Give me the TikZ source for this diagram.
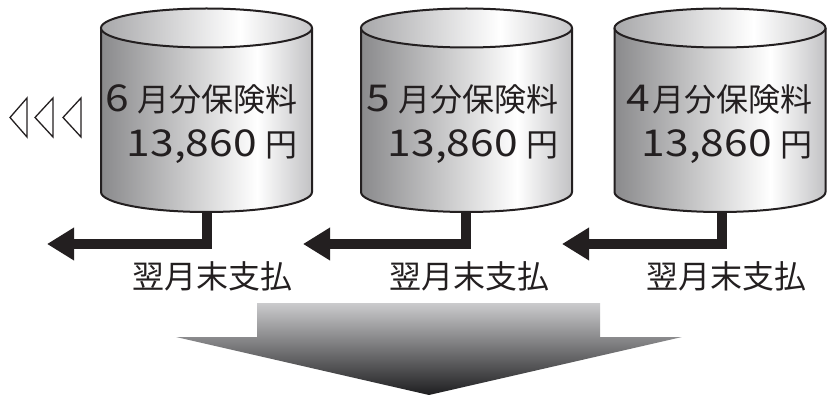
\documentclass[tikz,border=0pt]{standalone}
\usepackage{fontspec}
\setmainfont{Noto Sans CJK JP}
\newfontfamily\jp{Noto Sans CJK JP}
\usetikzlibrary{arrows.meta}
\definecolor{ink}{HTML}{231F20}
\definecolor{cA}{HTML}{8A8A8C}
\definecolor{cB}{HTML}{C2C2C4}
\definecolor{tA}{HTML}{A8A8AA}
\definecolor{tB}{HTML}{C6C6C8}
\definecolor{aTop}{HTML}{CBCBCD}
\definecolor{aBot}{HTML}{1E1E20}
\pgfdeclarehorizontalshading{cylbody}{100bp}{color(0bp)=(cA); color(25bp)=(cA); color(62bp)=(white); color(75bp)=(cB); color(100bp)=(cB)}
\pgfdeclarehorizontalshading{cyltop}{100bp}{color(0bp)=(tA); color(25bp)=(tA); color(58bp)=(white); color(75bp)=(tB); color(100bp)=(tB)}
\newcommand\dg{\fontsize{37}{40}\selectfont\jp}
\newcommand\kj{\fontsize{32}{36}\selectfont\jp}
\newcommand\numtxt[1]{\scalebox{1.15}[1]{\dg #1}}
% cylinder: #1 = centre x
\newcommand\mydrum[1]{%
  \shade[shading=cylbody] (#1-105.5,-28) -- (#1-105.5,-192)
    arc[start angle=180,end angle=360,x radius=105.5,y radius=20] -- (#1+105.5,-28) -- cycle;
  \draw[drumline] (#1-105.5,-28) -- (#1-105.5,-192)
    arc[start angle=180,end angle=360,x radius=105.5,y radius=20] -- (#1+105.5,-28);
  \shade[shading=cyltop] (#1,-28) ellipse[x radius=105.5,y radius=19.5];
  \draw[drumline] (#1,-28) ellipse[x radius=105.5,y radius=19.5];
}
\tikzset{
  drumline/.style={draw=ink, line width=2pt},
  pay/.style={draw=ink, line width=10pt, -{Triangle[length=27pt,width=31pt]}},
  cyltxt/.style={anchor=base east, inner sep=0pt, text=ink},
  lbl/.style={anchor=center, inner sep=0pt, text=ink, font=\kj},
  prev/.style={draw=ink, line width=1.3pt}
}
\begin{document}
\begin{tikzpicture}[x=1pt,y=1pt]
\useasboundingbox (0,0) rectangle (827,-395);
% big downward arrow
\shade[top color=aTop, bottom color=aBot]
  (257,-303) -- (600,-303) -- (600,-337) -- (682,-337) -- (429,-395)
  -- (176,-337) -- (257,-337) -- cycle;
% payment connectors
\coordinate (s1) at (207,-200);  \coordinate (t1) at (47,-244);
\coordinate (s2) at (466,-200);  \coordinate (t2) at (303,-244);
\coordinate (s3) at (722,-200);  \coordinate (t3) at (562,-244);
\draw[pay] (s1) |- (t1);
\draw[pay] (s2) |- (t2);
\draw[pay] (s3) |- (t3);
% cylinders
\mydrum{206.5}
\mydrum{466.5}
\mydrum{720}
% texts in cylinders
\node[cyltxt] (m1) at (298,-112) {\numtxt{6}\hspace{9pt}\kj 月分保険料};
\node[cyltxt] (y1) at (298,-157) {\numtxt{13,860}\hspace{9pt}\kj 円};
\node[cyltxt] (m2) at (559,-112) {\numtxt{5}\hspace{9pt}\kj 月分保険料};
\node[cyltxt] (y2) at (559,-157) {\numtxt{13,860}\hspace{9pt}\kj 円};
\node[cyltxt] (m3) at (813,-112) {\numtxt{4}\hspace{3pt}\kj 月分保険料};
\node[cyltxt] (y3) at (813,-157) {\numtxt{13,860}\hspace{9pt}\kj 円};
% labels
\node[lbl] (l1) at (212.5,-276) {翌月末支払};
\node[lbl] (l2) at (469,-276) {翌月末支払};
\node[lbl] (l3) at (726,-276) {翌月末支払};
% previous-months marks
\draw[prev] (27,-98) -- (10,-117.5) -- (27,-137) -- cycle;
\draw[prev] (53,-98) -- (35,-117.5) -- (53,-137) -- cycle;
\draw[prev] (81,-98) -- (63,-117.5) -- (81,-137) -- cycle;
\end{tikzpicture}
\end{document}
